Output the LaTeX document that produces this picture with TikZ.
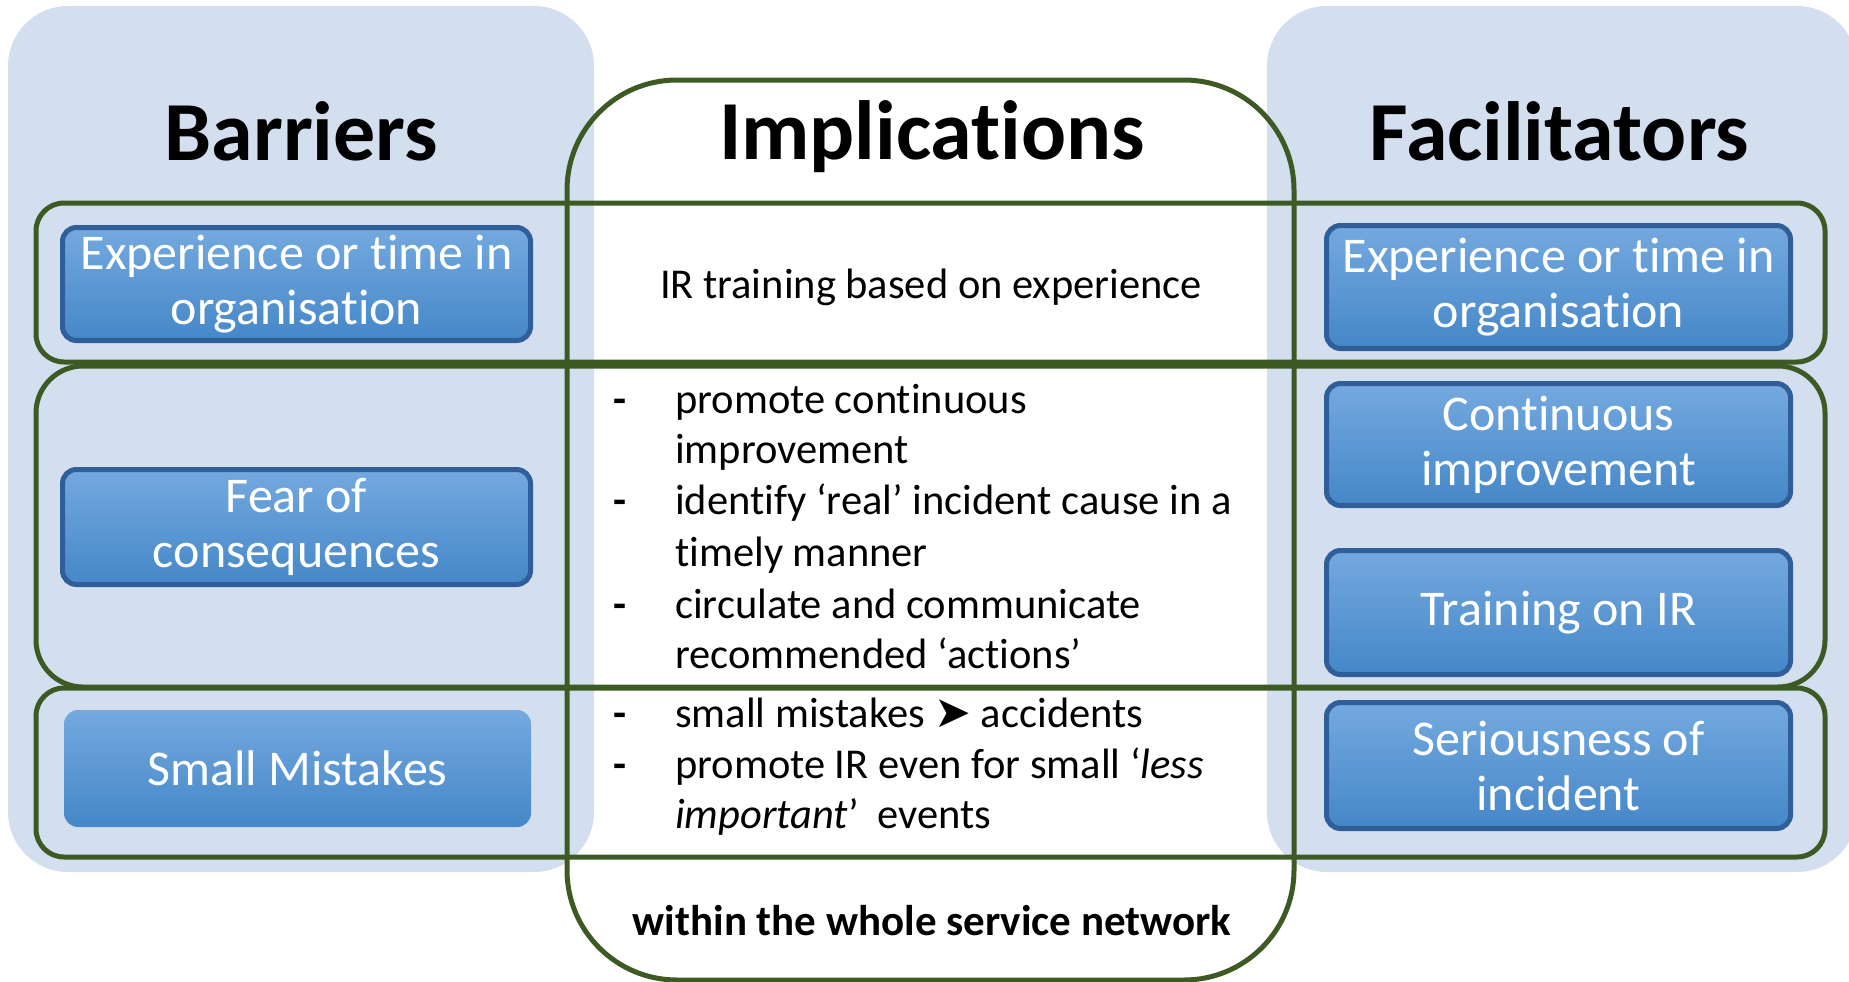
\documentclass[tikz,border=0pt]{standalone}
\usepackage{fontspec}
\setmainfont{Carlito}[Ligatures={NoCommon,NoContextual}]
\newfontfamily\symfont{DejaVu Sans}
\definecolor{panelfill}{HTML}{D3DEEF}
\definecolor{rowgreen}{HTML}{3D5A24}
\definecolor{boxtop}{HTML}{74A9DF}
\definecolor{boxbot}{HTML}{4587C8}
\definecolor{boxline}{HTML}{2F5E98}
\tikzset{
  panel/.style={fill=panelfill, draw=none, rounded corners=60pt, inner sep=0pt},
  rowbox/.style={draw=rowgreen, line width=5pt, inner sep=0pt},
  centerbox/.style={draw=rowgreen, line width=5pt, rounded corners=110pt, inner sep=0pt},
  bluebox/.style={draw=boxline, line width=5pt, rounded corners=14pt, top color=boxtop, bottom color=boxbot,
    text=white, align=center, inner sep=0pt, font=\fontsize{50}{55}\selectfont},
  plainblue/.style={bluebox, draw=none},
  title/.style={anchor=base, font=\fontsize{84}{100}\selectfont\bfseries},
  body/.style={anchor=base west, inner sep=0pt, font=\fontsize{42.5}{51}\selectfont},
  dashmark/.style={anchor=base, inner sep=0pt, font=\fontsize{42.5}{51}\selectfont\bfseries},
}
\begin{document}
\begin{tikzpicture}[x=1pt,y=-1pt]
\useasboundingbox (0,0) rectangle (1849,982);
% side panels
\node[panel, minimum width=586pt, minimum height=866pt] (lpanel) at (301,439) {};
\node[panel, minimum width=590pt, minimum height=866pt] (rpanel) at (1562,439) {};
% titles
\node[title] (tbar) at (301.5,160) {Barriers};
\node[title] (timp) at (932,159) {Implications};
\node[title] (tfac) at (1559.5,160) {Facilitators};
% central box
\node[centerbox, minimum width=727pt, minimum height=900pt] (cbox) at (930.5,530) {};
% rows
\node[rowbox, rounded corners=28pt, minimum width=1789pt, minimum height=159pt] (row1) at (930.5,282.5) {};
\node[rowbox, rounded corners=47pt, minimum width=1789pt, minimum height=321pt] (row2) at (930.5,526.5) {};
\node[rowbox, rounded corners=28pt, minimum width=1789pt, minimum height=169pt] (row3) at (930.5,772.5) {};
% left boxes
\node[bluebox, minimum width=468pt, minimum height=113pt] (lb1) at (296.5,284) {Experience or time in\\organisation};
\node[bluebox, minimum width=468pt, minimum height=115pt] (lb2) at (296.5,527) {Fear of\\consequences};
\node[plainblue, minimum width=467pt, minimum height=117pt] (lb3) at (297.5,768.5) {Small Mistakes};
% right boxes
\node[bluebox, minimum width=464pt, minimum height=123pt] (rb1) at (1558.5,287) {Experience or time in\\organisation};
\node[bluebox, minimum width=464pt, minimum height=122pt] (rb2) at (1558.5,444.5) {Continuous\\improvement};
\node[bluebox, minimum width=464pt, minimum height=124pt] (rb3) at (1558.5,612.5) {Training on IR};
\node[bluebox, minimum width=464pt, minimum height=126pt] (rb4) at (1558.5,765.5) {Seriousness of\\incident};
% middle texts
\node[anchor=base, inner sep=0pt, font=\fontsize{42.5}{51}\selectfont] (irt) at (931,298) {IR training based on experience};
\node[dashmark] (d1) at (620,413) {-};
\node[body] (m1) at (675,413) {promote continuous};
\node[body] (m2) at (675,463) {improvement};
\node[dashmark] (d2) at (620,514) {-};
\node[body] (m3) at (675,514) {identify ‘real’ incident cause in a};
\node[body] (m4) at (675,566) {timely manner};
\node[dashmark] (d3) at (620,618) {-};
\node[body] (m5) at (675,618) {circulate and communicate};
\node[body] (m6) at (675,668) {recommended ‘actions’};
\node[dashmark] (d4) at (620,727) {-};
\node[body] (m7) at (675,727) {small mistakes {\symfont\fontsize{44}{48}\selectfont ➤} accidents};
\node[dashmark] (d5) at (620,778) {-};
\node[body] (m8) at (675,778) {promote IR even for small ‘\textit{less}};
\node[body] (m9) at (675,828) {\textit{important}’\ \ events};
\node[anchor=base, inner sep=0pt, font=\fontsize{43}{48}\selectfont\bfseries] (net) at (932,935) {within the whole service network};
\end{tikzpicture}
\end{document}
